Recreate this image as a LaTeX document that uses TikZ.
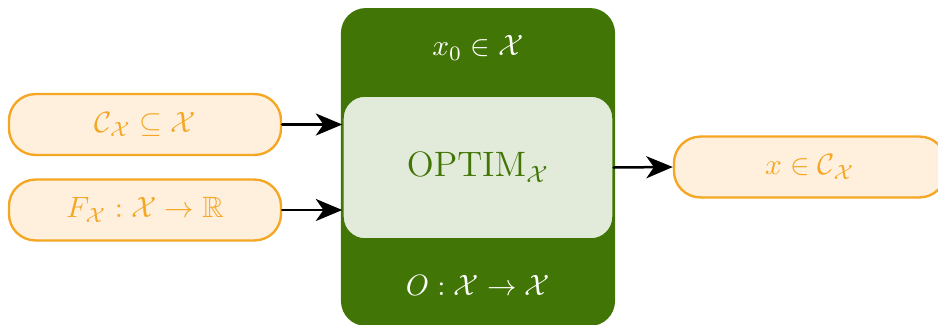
\documentclass[tikz,border=0pt]{standalone}
\usepackage{amsmath,amssymb}
\usepackage{xcolor}
\usepackage{tikz}
\usetikzlibrary{arrows.meta,positioning}
\definecolor{leaf}{HTML}{417505}
\definecolor{leafpale}{HTML}{E2EBD9}
\definecolor{amber}{HTML}{F5A623}
\definecolor{amberpale}{HTML}{FFF0DD}
\definecolor{ink}{HTML}{000000}
\tikzset{
  optim diagram/.style={
    x=0.34pt, y=-0.34pt,
    >={Stealth[length=9pt,width=7.5pt,inset=2.6pt]},
    line cap=round,
    line join=round
  },
  setbox/.style={
    draw=amber,
    fill=amberpale,
    text=amber,
    line width=0.8pt,
    rounded corners=9pt,
    minimum width=92.5pt,
    minimum height=20.7pt,
    inner sep=0pt
  },
  shellbox/.style={
    fill=leaf,
    draw=none,
    rounded corners=8.5pt,
    minimum width=93.2pt,
    minimum height=108.1pt,
    inner sep=0pt
  },
  corebox/.style={
    fill=leafpale,
    draw=leaf,
    line width=0.5pt,
    text=leaf,
    font=\large,
    rounded corners=7.5pt,
    minimum width=91.8pt,
    minimum height=48.6pt,
    inner sep=0pt
  },
  shelltext/.style={text=white},
  flowarrow/.style={
    ->,
    draw=ink,
    line width=0.85pt
  }
}
\begin{document}
\begin{tikzpicture}[optim diagram]
\useasboundingbox (0,0) rectangle (938,324);
\node[shellbox] (shell) at (478,167) {};
\node[corebox] (core) at (478,167.5) {$\mathrm{OPTIM}_{\mathcal{X}}$};
\node[shelltext] (init) at (478,48) {$x_0 \in \mathcal{X}$};
\node[shelltext] (oper) at (478,285) {$O : \mathcal{X} \to \mathcal{X}$};
\node[setbox] (cons) at (145,124.5) {$\mathcal{C}_{\mathcal{X}} \subseteq \mathcal{X}$};
\node[setbox] (func) at (145,210) {$F_{\mathcal{X}} : \mathcal{X} \to \mathbb{R}$};
\node[setbox] (sol) at (810,167) {$x \in \mathcal{C}_{\mathcal{X}}$};

\draw[flowarrow] (cons.east) -- (cons.east -| core.west);
\draw[flowarrow] (func.east) -- (func.east -| core.west);
\draw[flowarrow] (core.east) -- (sol.west);
\end{tikzpicture}
\end{document}
